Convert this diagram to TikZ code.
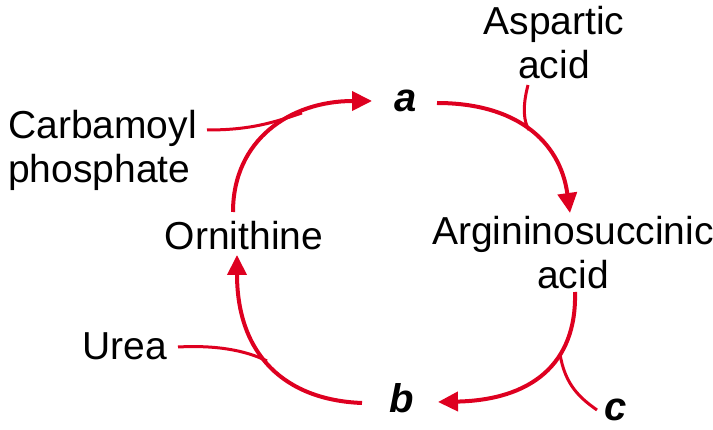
\documentclass[tikz,border=0pt]{standalone}
\usepackage{fontspec}
\setmainfont{Liberation Sans}
\usetikzlibrary{arrows.meta}
\definecolor{arrred}{RGB}{222,0,32}
\tikzset{
  lbl/.style={inner sep=0pt, font=\fontsize{39}{44}\selectfont},
  letter/.style={inner sep=0pt, font=\fontsize{40}{44}\selectfont\bfseries\itshape},
  mainarc/.style={draw=arrred, line width=4pt, -{Triangle[length=20pt,width=19pt]}},
  sidearc/.style={draw=arrred, line width=3pt}
}
\begin{document}
\begin{tikzpicture}[x=1pt,y=-1pt]
\useasboundingbox (0,0) rectangle (713,430);
% labels
\node[lbl, align=center] (asp) at (554,43) {Aspartic\\acid};
\node[lbl, anchor=west, align=left] (carb) at (8,150) {Carbamoyl\\phosphate};
\node[lbl] (orn) at (244,236) {Ornithine};
\node[lbl, align=center] (arg) at (573,253) {Argininosuccinic\\acid};
\node[lbl] (urea) at (125,346) {Urea};
\node[letter] (a) at (406,101) {a};
\node[letter] (b) at (402,398) {b};
\node[letter] (c) at (616,410) {c};
% endpoints
\coordinate (ornTop) at (233,212);
\coordinate (aIn) at (372,101);
\coordinate (aOut) at (437,103);
\coordinate (argIn) at (570,213);
\coordinate (argOut) at (575,292);
\coordinate (bIn) at (438,402);
\coordinate (bOut) at (362,403);
\coordinate (ornIn) at (237,255);
\coordinate (carbEnd) at (207,130);
\coordinate (j1) at (302,113);
\coordinate (aspEnd) at (528,85);
\coordinate (j2) at (529,130);
\coordinate (j3) at (560,354);
\coordinate (cEnd) at (597,410);
\coordinate (ureaEnd) at (178,347);
\coordinate (j4) at (267,361);
% main cycle
\draw[mainarc] (ornTop) .. controls (233,140) and (290,101) .. (aIn);
\draw[mainarc] (aOut) .. controls (515,103) and (560,140) .. (argIn);
\draw[mainarc] (argOut) .. controls (577,365) and (530,400) .. (bIn);
\draw[mainarc] (bOut) .. controls (285,400) and (237,355) .. (ornIn);
% side branches
\draw[sidearc] (carbEnd) .. controls (250,130) and (272,123) .. (j1);
\draw[sidearc] (aspEnd) .. controls (522,108) and (524,122) .. (j2);
\draw[sidearc] (j3) .. controls (565,385) and (580,398) .. (cEnd);
\draw[sidearc] (ureaEnd) .. controls (215,345) and (245,350) .. (j4);
\end{tikzpicture}
\end{document}
